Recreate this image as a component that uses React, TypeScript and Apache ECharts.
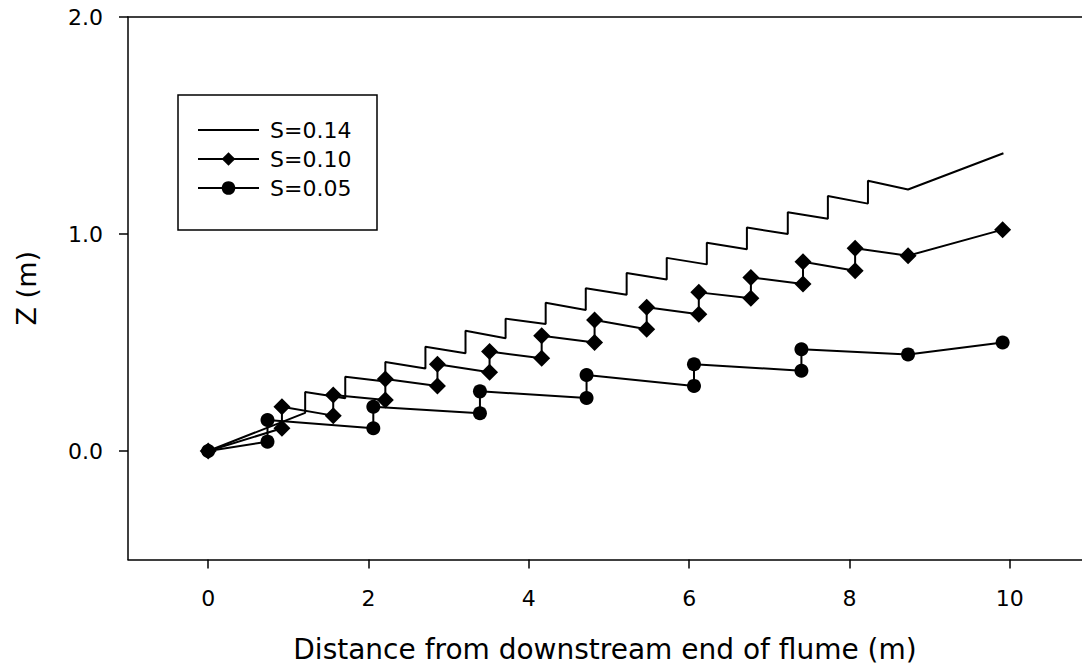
import React, { useEffect, useRef } from "react";
import * as echarts from "echarts";

// S = 0.14 (line only)
const s14X = [0, 1.21, 1.21, 1.71, 1.71, 2.21, 2.21, 2.71, 2.71, 3.21, 3.21, 3.71, 3.71, 4.21, 4.21, 4.71, 4.71, 5.22, 5.22, 5.72, 5.72, 6.22, 6.22, 6.72, 6.72, 7.23, 7.23, 7.73, 7.73, 8.23, 8.23, 8.73, 9.92];
const s14Z = [0, 0.176, 0.272, 0.243, 0.342, 0.32, 0.41, 0.38, 0.48, 0.45, 0.554, 0.52, 0.61, 0.585, 0.683, 0.65, 0.75, 0.72, 0.82, 0.79, 0.89, 0.86, 0.96, 0.93, 1.03, 1.0, 1.1, 1.07, 1.175, 1.14, 1.245, 1.205, 1.372];

// S = 0.10 (diamonds)
const s10X = [0, 0.92, 0.92, 1.56, 1.56, 2.21, 2.21, 2.86, 2.86, 3.51, 3.51, 4.16, 4.16, 4.82, 4.82, 5.47, 5.47, 6.12, 6.12, 6.77, 6.77, 7.42, 7.42, 8.07, 8.07, 8.73, 9.91];
const s10Z = [0, 0.105, 0.204, 0.163, 0.258, 0.235, 0.332, 0.3, 0.4, 0.363, 0.458, 0.427, 0.531, 0.5, 0.604, 0.561, 0.662, 0.63, 0.731, 0.704, 0.8, 0.77, 0.872, 0.831, 0.934, 0.9, 1.02];

// S = 0.05 (circles)
const s05X = [0, 0.74, 0.74, 2.06, 2.06, 3.39, 3.39, 4.72, 4.72, 6.06, 6.06, 7.4, 7.4, 8.73, 9.91];
const s05Z = [0, 0.043, 0.143, 0.105, 0.204, 0.174, 0.275, 0.244, 0.35, 0.3, 0.4, 0.37, 0.469, 0.445, 0.5];

const seriesNames = ["S=0.14", "S=0.10", "S=0.05"];
const xTickValues = [0, 2, 4, 6, 8, 10];
const yTickValues = [0, 1, 2];
const xTitle = "Distance from downstream end of flume (m)";
const yTitle = "Z (m)";

const FONT = "DejaVu Sans";

function zip(xs: number[], ys: number[]) {
  return xs.map((x, i) => [x, ys[i]]);
}

export default function App() {
  const ref = useRef<HTMLDivElement>(null);
  useEffect(() => {
    if (!ref.current) return;
    const chart = echarts.init(ref.current, null, { renderer: "svg" });
    const axisLineStyle = { color: "#000", width: 1.5 };
    chart.setOption({
      animation: false,
      backgroundColor: "#fff",
      grid: { left: 128, right: 0, top: 17, bottom: 111.5, containLabel: false },
      xAxis: [
        {
          type: "value",
          position: "bottom",
          min: -1,
          max: 10.9,
          axisLine: { show: true, onZero: false, lineStyle: axisLineStyle },
          axisTick: { show: true, customValues: xTickValues, length: 9, lineStyle: axisLineStyle },
          axisLabel: {
            customValues: xTickValues,
            margin: 28,
            fontSize: 22,
            fontFamily: FONT,
            color: "#000",
          },
          splitLine: { show: false },
          name: xTitle,
          nameLocation: "middle",
          nameGap: 76,
          nameTextStyle: { fontSize: 28, fontFamily: FONT, color: "#000" },
        },
        {
          type: "value",
          position: "top",
          min: -1,
          max: 10.9,
          axisLine: { show: true, onZero: false, lineStyle: axisLineStyle },
          axisTick: { show: false },
          axisLabel: { show: false },
          splitLine: { show: false },
        },
      ],
      yAxis: {
        type: "value",
        min: -0.5,
        max: 2.0,
        axisLine: { show: true, onZero: false, lineStyle: axisLineStyle },
        axisTick: { show: true, customValues: yTickValues, length: 9, lineStyle: axisLineStyle },
        axisLabel: {
          customValues: yTickValues,
          margin: 25,
          fontSize: 22,
          fontFamily: FONT,
          color: "#000",
          formatter: (v: number) => v.toFixed(1),
        },
        splitLine: { show: false },
        name: yTitle,
        nameLocation: "middle",
        nameGap: 88,
        nameRotate: 90,
        nameTextStyle: { fontSize: 27, fontFamily: FONT, color: "#000" },
      },
      legend: {
        orient: "vertical",
        left: 197,
        top: 119,
        padding: 0,
        itemWidth: 61,
        itemHeight: 17,
        itemGap: 7,
        selectedMode: false,
        data: [
          { name: seriesNames[0], itemStyle: { opacity: 0 } },
          { name: seriesNames[1] },
          { name: seriesNames[2] },
        ],
        textStyle: { fontSize: 22, fontFamily: FONT, color: "#000", padding: [0, 0, 0, 6] },
      },
      graphic: [
        {
          type: "rect",
          z: 0,
          shape: { x: 178, y: 95, width: 199, height: 135 },
          style: { fill: "#fff", stroke: "#000", lineWidth: 1.5 },
        },
      ],
      series: [
        {
          name: "S=0.05",
          type: "line",
          data: zip(s05X, s05Z),
          symbol: "circle",
          symbolSize: 14,
          lineStyle: { color: "#000", width: 2 },
          itemStyle: { color: "#000" },
        },
        {
          name: "S=0.10",
          type: "line",
          data: zip(s10X, s10Z),
          symbol: "diamond",
          symbolSize: 17,
          lineStyle: { color: "#000", width: 2 },
          itemStyle: { color: "#000" },
        },
        {
          name: "S=0.14",
          type: "line",
          data: zip(s14X, s14Z),
          symbol: "none",
          lineStyle: { color: "#000", width: 2 },
          itemStyle: { color: "#000" },
        },
      ],
    });
    return () => chart.dispose();
  }, []);
  return (
    <div
      ref={ref}
      style={{ position: "absolute", left: 0, top: 0, width: 1082, height: 671 }}
    />
  );
}
